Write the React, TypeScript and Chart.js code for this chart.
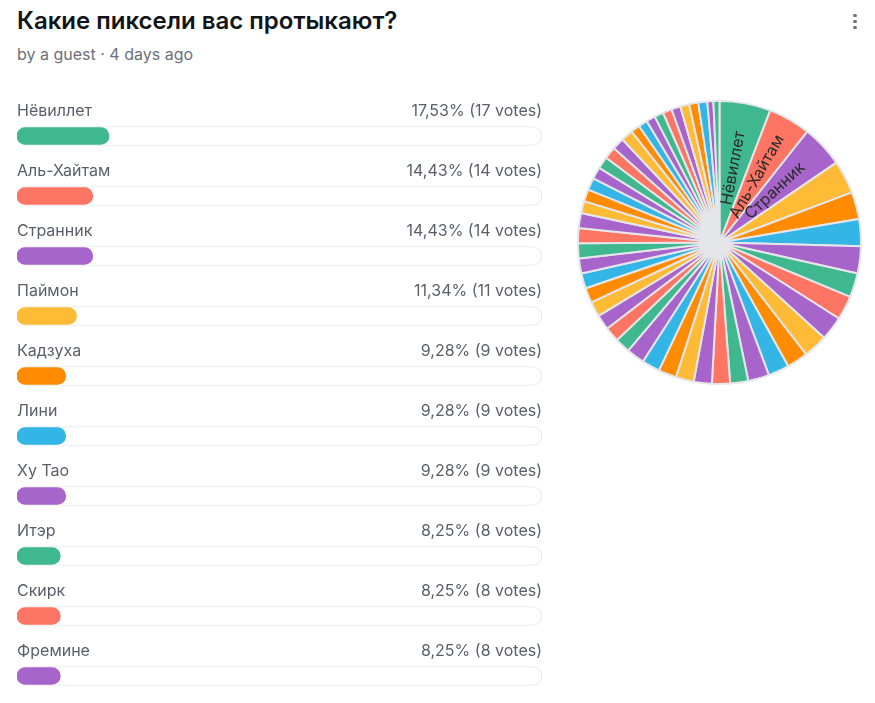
import React, { useEffect, useRef } from 'react';
import { Chart, registerables } from 'chart.js';

Chart.register(...registerables);

const pollTitle = 'Какие пиксели вас протыкают?';
const pollSubtitle = 'by a guest · 4 days ago';

const optionNames = ['Нёвиллет', 'Аль-Хайтам', 'Странник', 'Паймон', 'Кадзуха', 'Лини', 'Ху Тао', 'Итэр', 'Скирк', 'Фремине'];
const optionVotes = [17, 14, 14, 11, 9, 9, 9, 8, 8, 8];
const optionPercents = [17.53, 14.43, 14.43, 11.34, 9.28, 9.28, 9.28, 8.25, 8.25, 8.25];

// all options shown in the pie (only the top ten names are visible in the picture)
const pieVotes = [
  17, 14, 14, 11, 9, 9, 9, 8, 8, 8,
  8, 7, 7, 7,
  6, 6, 6, 6, 6, 6, 6,
  5, 5, 5, 5, 5, 5, 5, 5, 5, 5,
  4, 4, 4, 4, 4, 4, 4, 4,
  3, 3, 3, 3, 3, 3, 3, 3, 3,
  2, 2,
];
const pieLabels = pieVotes.map((_, i) => optionNames[i] ?? '');

const palette = ['#3fb88f', '#ff7563', '#a764cb', '#ffbb36', '#ff8b00', '#33b5e5', '#a764cb'];
const LABEL_MIN_VOTES = 12;

const FONT = 'Inter, "Noto Sans", sans-serif';

function percentText(i: number) {
  return optionPercents[i].toFixed(2).replace('.', ',') + '% (' + optionVotes[i] + ' votes)';
}

function ListChart() {
  const ref = useRef<HTMLCanvasElement>(null);
  useEffect(() => {
    const rowLabels = {
      id: 'rowLabels',
      afterDatasetsDraw(chart: any) {
        const meta = chart.getDatasetMeta(1);
        const ctx = chart.ctx;
        const area = chart.chartArea;
        ctx.save();
        ctx.font = '16px ' + FONT;
        ctx.fillStyle = '#595f6a';
        ctx.textBaseline = 'alphabetic';
        meta.data.forEach((bar: any, i: number) => {
          const y = bar.y - 20;
          ctx.textAlign = 'left';
          ctx.fillText(optionNames[i], area.left, y);
          ctx.textAlign = 'right';
          ctx.fillText(percentText(i), area.right, y);
        });
        ctx.restore();
      },
    };
    const chart = new Chart(ref.current as HTMLCanvasElement, {
      type: 'bar',
      data: {
        labels: optionNames,
        datasets: [
          {
            data: optionPercents,
            backgroundColor: optionNames.map((_, i) => palette[i % palette.length]),
            borderWidth: 0,
            borderRadius: 9,
            borderSkipped: false,
            barThickness: 17,
            grouped: false,
            order: 0,
          } as any,
          {
            data: optionNames.map(() => 100),
            backgroundColor: '#ffffff',
            borderColor: '#e4e6ea',
            borderWidth: 1,
            borderRadius: 10,
            borderSkipped: false,
            barThickness: 19,
            grouped: false,
            order: 1,
          } as any,
        ],
      },
      options: {
        indexAxis: 'y',
        responsive: false,
        animation: false,
        events: [],
        layout: { padding: { left: 17, right: 18, top: 10, bottom: 0 } },
        scales: {
          x: { display: false, min: 0, max: 100 },
          y: { display: false },
        },
        plugins: { legend: { display: false }, tooltip: { enabled: false } },
      },
      plugins: [rowLabels],
    });
    return () => chart.destroy();
  }, []);
  return (
    <canvas
      ref={ref}
      width={560}
      height={610}
      style={{ position: 'absolute', left: 0, top: 96, width: 560, height: 610 }}
    />
  );
}

function PieChart() {
  const ref = useRef<HTMLCanvasElement>(null);
  useEffect(() => {
    const sliceLabels = {
      id: 'sliceLabels',
      afterDatasetsDraw(chart: any) {
        const meta = chart.getDatasetMeta(0);
        const ctx = chart.ctx;
        ctx.save();
        ctx.font = '16px ' + FONT;
        ctx.fillStyle = '#2a2a2a';
        ctx.textAlign = 'center';
        ctx.textBaseline = 'middle';
        meta.data.forEach((arc: any, i: number) => {
          if (!pieLabels[i] || pieVotes[i] < LABEL_MIN_VOTES) return;
          const p = arc.getProps(['x', 'y', 'startAngle', 'endAngle', 'outerRadius'], true);
          const mid = (p.startAngle + p.endAngle) / 2;
          const r = p.outerRadius * 0.535;
          ctx.save();
          ctx.translate(p.x + Math.cos(mid) * r, p.y + Math.sin(mid) * r);
          ctx.rotate(mid);
          ctx.fillText(pieLabels[i], 0, 0);
          ctx.restore();
        });
        ctx.restore();
      },
    };
    const chart = new Chart(ref.current as HTMLCanvasElement, {
      type: 'pie',
      data: {
        labels: pieLabels,
        datasets: [
          {
            data: pieVotes,
            backgroundColor: pieVotes.map((_, i) => palette[i % palette.length]),
            borderColor: '#e5e6ea',
            borderWidth: 2,
            hoverOffset: 0,
            offset: 0,
          } as any,
        ],
      },
      options: {
        responsive: false,
        animation: false,
        events: [],
        layout: { padding: 0 },
        plugins: { legend: { display: false }, tooltip: { enabled: false } },
      },
      plugins: [sliceLabels],
    });
    return () => chart.destroy();
  }, []);
  return (
    <canvas
      ref={ref}
      width={285}
      height={285}
      style={{ position: 'absolute', left: 577, top: 100, width: 285, height: 285 }}
    />
  );
}

export default function App() {
  useEffect(() => {
    document.body.style.margin = '0';
  }, []);
  const dot = (top: number) => (
    <div
      style={{
        position: 'absolute',
        left: 853.3,
        top: top - 1.7,
        width: 3.4,
        height: 3.4,
        borderRadius: '50%',
        background: '#6b7280',
      }}
    />
  );
  return (
    <div
      style={{
        position: 'fixed',
        left: 0,
        top: 0,
        width: 875,
        height: 703,
        overflow: 'hidden',
        background: '#ffffff',
        fontFamily: FONT,
      }}
    >
      <div
        style={{
          position: 'absolute',
          left: 17,
          top: 8.8,
          fontSize: 24,
          lineHeight: '24px',
          fontWeight: 600,
          color: '#111418',
          whiteSpace: 'nowrap',
        }}
      >
        {pollTitle}
      </div>
      <div
        style={{
          position: 'absolute',
          left: 17,
          top: 46.2,
          fontSize: 16,
          lineHeight: '16px',
          color: '#6b7078',
          whiteSpace: 'nowrap',
        }}
      >
        {pollSubtitle}
      </div>
      {dot(15.7)}
      {dot(21.7)}
      {dot(27.7)}
      <ListChart />
      <PieChart />
    </div>
  );
}
